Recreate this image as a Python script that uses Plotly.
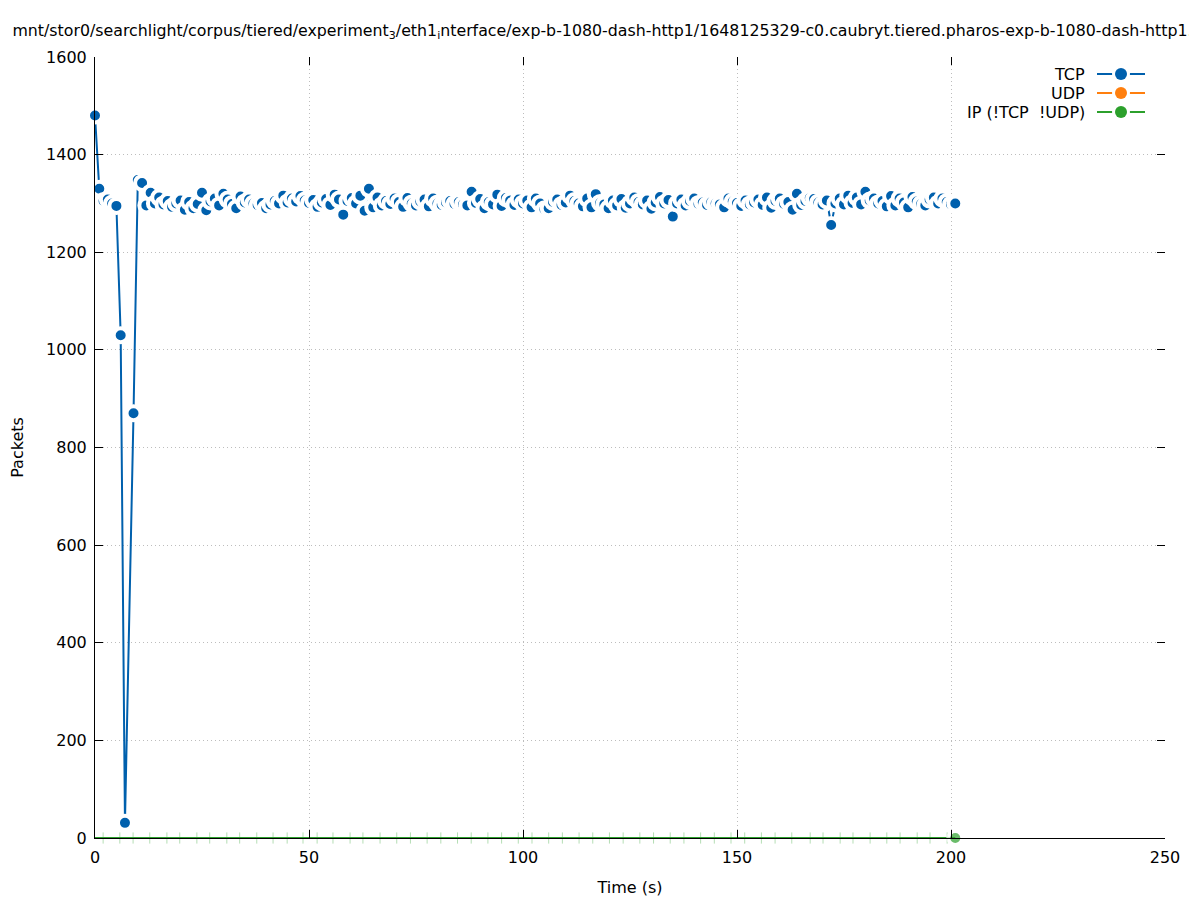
import plotly.graph_objects as go

# ---------------- data ----------------
tcp_times = list(range(0, 8)) + list(range(9, 202))
tcp_values = [
    1480, 1330, 1305, 1308, 1300, 1295, 1030, 31, 870,
    1348, 1342, 1296, 1322, 1300, 1312, 1298, 1305, 1293, 1300,
    1306, 1287, 1303, 1290, 1299, 1322, 1286, 1304, 1310, 1296,
    1320, 1308, 1299, 1290, 1314, 1302, 1308, 1300, 1297, 1301,
    1290, 1298, 1305, 1300, 1316, 1302, 1310, 1304, 1315, 1306,
    1301, 1307, 1293, 1302, 1309, 1297, 1318, 1308, 1277, 1305,
    1311, 1300, 1316, 1285, 1330, 1292, 1312, 1296, 1305, 1299,
    1310, 1303, 1293, 1311, 1300, 1296, 1304, 1308, 1294, 1310,
    1300, 1297, 1302, 1305, 1299, 1303, 1298, 1296, 1324, 1301,
    1309, 1290, 1303, 1298, 1318, 1295, 1311, 1306, 1297, 1308,
    1300, 1306, 1292, 1310, 1300, 1288, 1290, 1303, 1308, 1297,
    1302, 1316, 1305, 1300, 1294, 1310, 1292, 1319, 1301, 1298,
    1290, 1306, 1296, 1309, 1291, 1300, 1312, 1303, 1298, 1306,
    1289, 1302, 1313, 1300, 1307, 1273, 1300, 1308, 1296, 1305,
    1310, 1299, 1302, 1297, 1303, 1300, 1298, 1292, 1310, 1304,
    1301, 1295, 1306, 1298, 1302, 1308, 1297, 1312, 1291, 1305,
    1310, 1299, 1303, 1287, 1320, 1297, 1305, 1311, 1309, 1302,
    1298, 1306, 1256, 1300, 1310, 1298, 1316, 1301, 1312, 1298,
    1324, 1306, 1310, 1300, 1305, 1294, 1315, 1296, 1310, 1302,
    1292, 1313, 1304, 1299, 1296, 1308, 1312, 1300, 1310, 1303,
    1298, 1300,
]
ip_times = [0, 201]
ip_values = [0, 0]
# faint green line fragments visible along the time axis (IP series at zero)
ip_fragment_times = [
    -1.2, 1.9, 5.8, 8.9, 12.8, 16.8, 19.8, 23.8, 26.8, 30.8,
    33.8, 37.8, 41.6, 44.9, 48.6, 51.9, 55.6, 59.6, 62.6, 66.6,
    70.5, 73.7, 77.6, 80.8, 84.7, 87.9, 91.8, 95.0, 98.9, 102.1,
    106.0, 109.2, 113.1, 116.3, 120.2, 123.4, 127.3, 130.5, 134.4, 137.6,
    141.5, 144.7, 148.6, 151.8, 155.7, 158.9, 162.8, 167.1, 170.1, 174.1,
    177.1, 181.1, 185.0, 188.1, 192.1, 195.1, 199.1,
]
ip_fragment_values = [0] * len(ip_fragment_times)

series_names = ["TCP", "UDP", "IP (!TCP  !UDP)"]
series_colors = ["#0060ad", "#ff7f0e", "#2ca02c"]

x_ticks = [0, 50, 100, 150, 200, 250]
y_ticks = [0, 200, 400, 600, 800, 1000, 1200, 1400, 1600]

title_text = ("mnt/stor0/searchlight/corpus/tiered/experiment<sub>3</sub>/eth1<sub>i</sub>nterface/"
              "exp-b-1080-dash-http1/1648125329-c0.caubryt.tiered.pharos-exp-b-1080-dash-http1.")

FONT = "DejaVu Sans"
FS = 16
OFF = 8  # default page body margin
W, H = 1197 - OFF, 900 - OFF
L, R, T, B = 95 - OFF, 32, 57 - OFF, 62

fig = go.Figure()

fig.add_trace(go.Scatter(
    x=ip_fragment_times, y=ip_fragment_values, mode="markers",
    marker=dict(symbol="line-ns", size=8, color="rgba(44,160,44,0.35)",
                line=dict(color="rgba(44,160,44,0.35)", width=1)),
    cliponaxis=False, showlegend=False, hoverinfo="skip",
))

fig.add_trace(go.Scatter(
    x=ip_times, y=ip_values, mode="lines+markers", name=series_names[2],
    line=dict(color=series_colors[2], width=2),
    marker=dict(size=[0, 14], color=series_colors[2], line=dict(color="white", width=[0, 4])),
    cliponaxis=False, showlegend=False,
))

fig.add_trace(go.Scatter(
    x=tcp_times, y=tcp_values, mode="lines+markers", name=series_names[0],
    line=dict(color=series_colors[0], width=2),
    marker=dict(size=14, color=series_colors[0], line=dict(color="white", width=4)),
    cliponaxis=False, showlegend=False,
))

fig.add_trace(go.Scatter(x=[], y=[], xaxis="x2", yaxis="y2", showlegend=False))

axis_common = dict(
    ticks="inside", ticklen=8, tickwidth=1, tickcolor="black",
    showgrid=True, gridcolor="#bdbdbd", griddash="1px,3px", gridwidth=1,
    zeroline=False, tickfont=dict(family=FONT, size=FS, color="black"),
    automargin=False,
)

fig.update_layout(
    width=W, height=H,
    margin=dict(l=L, r=R, t=T, b=B),
    paper_bgcolor="white", plot_bgcolor="white",
    font=dict(family=FONT, size=FS, color="black"),
    title=dict(text=title_text, x=0.5, xref="container", xanchor="center",
               y=1 - 22 / H, yanchor="middle", font=dict(family=FONT, size=15.8)),
    xaxis=dict(range=[0, 250], tickvals=x_ticks, showline=True, linecolor="black", linewidth=1,
               ticklabelstandoff=5,
               title=dict(text="Time (s)", font=dict(family=FONT, size=FS), standoff=15),
               **axis_common),
    yaxis=dict(range=[0, 1600], tickvals=y_ticks, showline=True, linecolor="black", linewidth=1,
               ticklabelstandoff=4,
               title=dict(text="Packets", font=dict(family=FONT, size=FS), standoff=20),
               **axis_common),
    xaxis2=dict(range=[0, 250], tickvals=x_ticks, overlaying="x", side="top", anchor="y2",
                ticks="inside", ticklen=8, tickcolor="black", showticklabels=False,
                showgrid=False, showline=False, zeroline=False),
    yaxis2=dict(range=[0, 1600], tickvals=y_ticks, overlaying="y", side="right", anchor="x2",
                ticks="inside", ticklen=8, tickcolor="black", showticklabels=False,
                showgrid=False, showline=False, zeroline=False),
)

# manual gnuplot-style legend (text first, sample on the right)
pw = W - L - R
ph = H - T - B
rows_px = [74 - OFF, 93 - OFF, 112 - OFF]
text_right_px = 1087 - OFF
s0_px, s1_px, sc_px = 1097 - OFF, 1145 - OFF, 1121 - OFF
shapes = []
annotations = []
for name, color, ypx in zip(series_names, series_colors, rows_px):
    yp = (H - B - ypx) / ph
    annotations.append(dict(text=name, xref="paper", yref="paper",
                            x=(text_right_px - L) / pw, y=yp, xanchor="right", yanchor="middle",
                            showarrow=False, font=dict(family=FONT, size=FS, color="black")))
    shapes.append(dict(type="line", xref="paper", yref="paper",
                       x0=(s0_px - L) / pw, x1=(s1_px - L) / pw, y0=yp, y1=yp,
                       line=dict(color=color, width=2), layer="above"))
    for d, c in ((18, "white"), (12, color)):
        shapes.append(dict(type="circle", xref="paper", yref="paper",
                           xsizemode="pixel", ysizemode="pixel",
                           xanchor=(sc_px - L) / pw, yanchor=yp,
                           x0=-d / 2, x1=d / 2, y0=-d / 2, y1=d / 2,
                           fillcolor=c, line=dict(width=0), layer="above"))
fig.update_layout(shapes=shapes, annotations=annotations)

fig.write_html("out.html")
